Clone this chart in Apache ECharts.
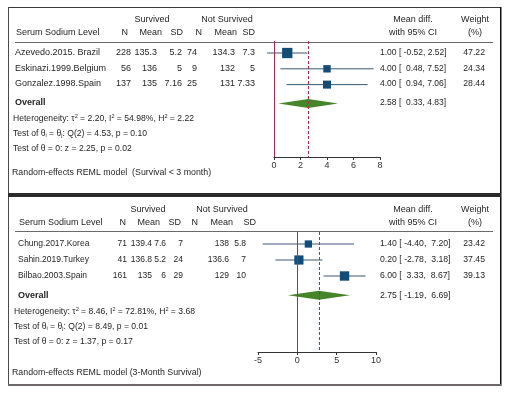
<!DOCTYPE html>
<html>
<head>
<meta charset="utf-8">
<script src="https://cdn.jsdelivr.net/npm/echarts@6/dist/echarts.min.js"></script>
<style>
  html, body { margin: 0; padding: 0; background: #fff; }
  #main { width: 508px; height: 396px; }
</style>
</head>
<body>
<div id="main"></div>
<script>
// ---- panel 1: survival < 3 month ----
const topRows = [
  ['Azevedo.2015. Brazil', '228', '135.3', '5.2', '74', '134.3', '7.3'],
  ['Eskinazi.1999.Belgium', '56', '136', '5', '9', '132', '5'],
  ['Gonzalez.1998.Spain', '137', '135', '7.16', '25', '131', '7.33']
];
const topEst = [1.00, 4.00, 4.00];
const topLo = [-0.52, 0.48, 0.94];
const topHi = [2.52, 7.52, 7.06];
const topWeight = [47.22, 24.34, 28.44];
const topOverall = [2.58, 0.33, 4.83];
const topTicks = { min: 0, max: 8, interval: 2 };
const topStats = [
  'Heterogeneity: τ{s|2} = 2.20, I{s|2} = 54.98%, H{s|2} = 2.22',
  'Test of θ{b|i} = θ{b|j}: Q(2) = 4.53, p = 0.10',
  'Test of θ = 0: z = 2.25, p = 0.02'
];
const topNote = 'Random-effects REML model  (Survival < 3 month)';

// ---- panel 2: 3-month survival ----
const botRows = [
  ['Chung.2017.Korea', '71', '139.4', '7.6', '7', '138', '5.8'],
  ['Sahin.2019.Turkey', '41', '136.8', '5.2', '24', '136.6', '7'],
  ['Bilbao.2003.Spain', '161', '135', '6', '29', '129', '10']
];
const botEst = [1.40, 0.20, 6.00];
const botLo = [-4.40, -2.78, 3.33];
const botHi = [7.20, 3.18, 8.67];
const botWeight = [23.42, 37.45, 39.13];
const botOverall = [2.75, -1.19, 6.69];
const botTicks = { min: -5, max: 10, interval: 5 };
const botStats = [
  'Heterogeneity: τ{s|2} = 8.46, I{s|2} = 72.81%, H{s|2} = 3.68',
  'Test of θ{b|i} = θ{b|j}: Q(2) = 8.49, p = 0.01',
  'Test of θ = 0: z = 1.37, p = 0.17'
];
const botNote = 'Random-effects REML model (3-Month Survival)';

const headCols = ['N', 'Mean', 'SD', 'N', 'Mean', 'SD'];
const overallRow = 4.2;

const FONT = '"Liberation Sans", Arial, sans-serif';
const TXT = '#262626';

function txt(x, y, text, align, size, bold) {
  return {
    type: 'text', x: x, y: y, silent: true,
    style: {
      text: text, fill: TXT,
      fontSize: size || 9, fontFamily: FONT, fontWeight: bold ? 'bold' : 'normal',
      textAlign: align || 'left', textVerticalAlign: 'middle',
      rich: {
        s: { fontSize: 5.5, fontFamily: FONT, fill: TXT, verticalAlign: 'top' },
        b: { fontSize: 5.5, fontFamily: FONT, fill: TXT, verticalAlign: 'bottom' }
      }
    }
  };
}

function fmt(v) {
  const s = v.toFixed(2);
  return v < 0 ? s : ' ' + s;
}
function ciText(e, l, h, gap) {
  return e.toFixed(2) + ' [ ' + fmt(l) + ',' + gap + h.toFixed(2) + ']';
}

// text blocks for a panel, lay = pixel layout of that panel
function panelText(rows, est, lo, hi, w, overall, stats, note, lay) {
  const g = [];
  const fs = lay.fs;
  g.push(txt(lay.survX, lay.h1, 'Survived', 'center'));
  g.push(txt(lay.notX, lay.h1, 'Not Survived', 'center'));
  g.push(txt(lay.nameX + 1, lay.h2, 'Serum Sodium Level'));
  headCols.forEach((h, i) => g.push(txt(lay.headR[i], lay.h2, h, 'right')));
  g.push(txt(413, lay.h1, 'Mean diff.', 'center'));
  g.push(txt(413, lay.h2, 'with 95% CI', 'center'));
  g.push(txt(475, lay.h1, 'Weight', 'center'));
  g.push(txt(475, lay.h2, '(%)', 'center'));
  g.push({
    type: 'line', silent: true,
    shape: { x1: 15, y1: lay.rule + 0.5, x2: 493, y2: lay.rule + 0.5 },
    style: { stroke: '#6a6a6a', lineWidth: 1 }
  });
  rows.forEach((r, k) => {
    const y = lay.rows[k];
    g.push(txt(lay.nameX, y, r[0], 'left', fs));
    for (let i = 1; i < r.length; i++) g.push(txt(lay.colR[i - 1], y, r[i], 'right', fs));
    g.push(txt(380, y, ciText(est[k], lo[k], hi[k], lay.gap), 'left', lay.ciFs));
    g.push(txt(485, y, w[k].toFixed(2), 'right', 8.7));
  });
  g.push(txt(lay.nameX, lay.overall, 'Overall', 'left', 9, true));
  g.push(txt(380, lay.overall, ciText(overall[0], overall[1], overall[2], lay.gap), 'left', lay.ciFs));
  stats.forEach((s, k) => g.push(txt(lay.statX, lay.overall + 15.3 * (k + 1), s, 'left', 8.6)));
  g.push(txt(12, lay.note, note, 'left', 8.8));
  return g;
}

const topLay = {
  fs: 9, h1: 20, h2: 33, rule: 42, survX: 152, notX: 227, nameX: 15, statX: 13,
  headR: [128, 162, 183, 202, 237, 255],
  colR: [131, 157, 182, 197, 235, 255],
  rows: [53, 69, 84], overall: 103, note: 173, gap: ' ', ciFs: 8.5
};
const botLay = {
  fs: 8.5, h1: 210, h2: 223, rule: 231, survX: 148, notX: 222, nameX: 18, statX: 14,
  headR: [126, 160, 181, 198, 233, 256],
  colR: [127, 152, 166, 183, 229, 246],
  rows: [244, 260, 276], overall: 296, note: 373, gap: '  ', ciFs: 8.7
};

const frame = [
  { type: 'rect', silent: true, shape: { x: 8, y: 7, width: 492.5, height: 1 }, style: { fill: '#3a3a3a' } },
  { type: 'rect', silent: true, shape: { x: 8, y: 7, width: 1, height: 378 }, style: { fill: '#4a4a4a' } },
  { type: 'rect', silent: true, shape: { x: 500, y: 7, width: 1.5, height: 379 }, style: { fill: '#111' } },
  { type: 'rect', silent: true, shape: { x: 8, y: 193, width: 493, height: 4 }, style: { fill: '#2b2b2b' } },
  { type: 'rect', silent: true, shape: { x: 8, y: 384, width: 493, height: 2 }, style: { fill: '#6e6868' } }
];

function studyItem(params, api) {
  const row = api.value(0);
  const p = api.coord([api.value(1), row]);
  const a = api.coord([api.value(2), row]);
  const b = api.coord([api.value(3), row]);
  const s = 1.5 * Math.sqrt(api.value(4));
  return {
    type: 'group',
    children: [
      { type: 'line', shape: { x1: a[0], y1: a[1], x2: b[0], y2: b[1] }, style: { stroke: '#3b5870', lineWidth: 1 } },
      { type: 'rect', shape: { x: p[0] - s / 2, y: p[1] - s / 2, width: s, height: s }, style: { fill: '#124c79' } }
    ]
  };
}

function diamondItem(params, api) {
  const row = api.value(0);
  const c = api.coord([api.value(1), row]);
  const l = api.coord([api.value(2), row]);
  const r = api.coord([api.value(3), row]);
  const h = 4.5;
  return {
    type: 'polygon',
    shape: { points: [[l[0], l[1]], [c[0], c[1] - h], [r[0], r[1]], [c[0], c[1] + h]] },
    style: { fill: '#46862a' }
  };
}

function xAxis(idx, t) {
  return {
    type: 'value', gridIndex: idx, min: t.min, max: t.max, interval: t.interval,
    axisLine: { show: true, lineStyle: { color: '#333', width: 1 } },
    axisTick: { show: true, length: 3, lineStyle: { color: '#333' } },
    axisLabel: { fontSize: 9, color: '#333', margin: 4, fontFamily: FONT },
    splitLine: { show: false }
  };
}
function yAxis(idx, min, max) {
  return { type: 'value', gridIndex: idx, min: min, max: max, inverse: true, show: false };
}

function seriesFor(idx, est, lo, hi, w, overall) {
  const studies = est.map((e, k) => [k + 1, e, lo[k], hi[k], w[k]]);
  return [
    {
      type: 'line', xAxisIndex: idx, yAxisIndex: idx, data: [], silent: true, z: 1,
      markLine: {
        silent: true, symbol: 'none', label: { show: false },
        data: [
          { xAxis: 0, lineStyle: { color: '#a3304f', type: 'solid', width: 1 } },
          { xAxis: overall[0], lineStyle: { color: '#a3304f', type: [3, 2], width: 1 } }
        ]
      }
    },
    { type: 'custom', xAxisIndex: idx, yAxisIndex: idx, renderItem: studyItem, data: studies, z: 3, silent: true },
    { type: 'custom', xAxisIndex: idx, yAxisIndex: idx, renderItem: diamondItem, data: [[overallRow].concat(overall)], z: 3, silent: true }
  ];
}

const chart = echarts.init(document.getElementById('main'));
chart.setOption({
  backgroundColor: '#fff',
  animation: false,
  grid: [
    { left: 274, top: 41, width: 106, height: 116 },
    { left: 258, top: 232, width: 118, height: 120 }
  ],
  xAxis: [xAxis(0, topTicks), xAxis(1, botTicks)],
  yAxis: [yAxis(0, 0.24, 7.58), yAxis(1, 0.25, 7.75)],
  series: seriesFor(0, topEst, topLo, topHi, topWeight, topOverall)
    .concat(seriesFor(1, botEst, botLo, botHi, botWeight, botOverall)),
  graphic: {
    elements: frame
      .concat(panelText(topRows, topEst, topLo, topHi, topWeight, topOverall, topStats, topNote, topLay))
      .concat(panelText(botRows, botEst, botLo, botHi, botWeight, botOverall, botStats, botNote, botLay))
  }
});
</script>
</body>
</html>
